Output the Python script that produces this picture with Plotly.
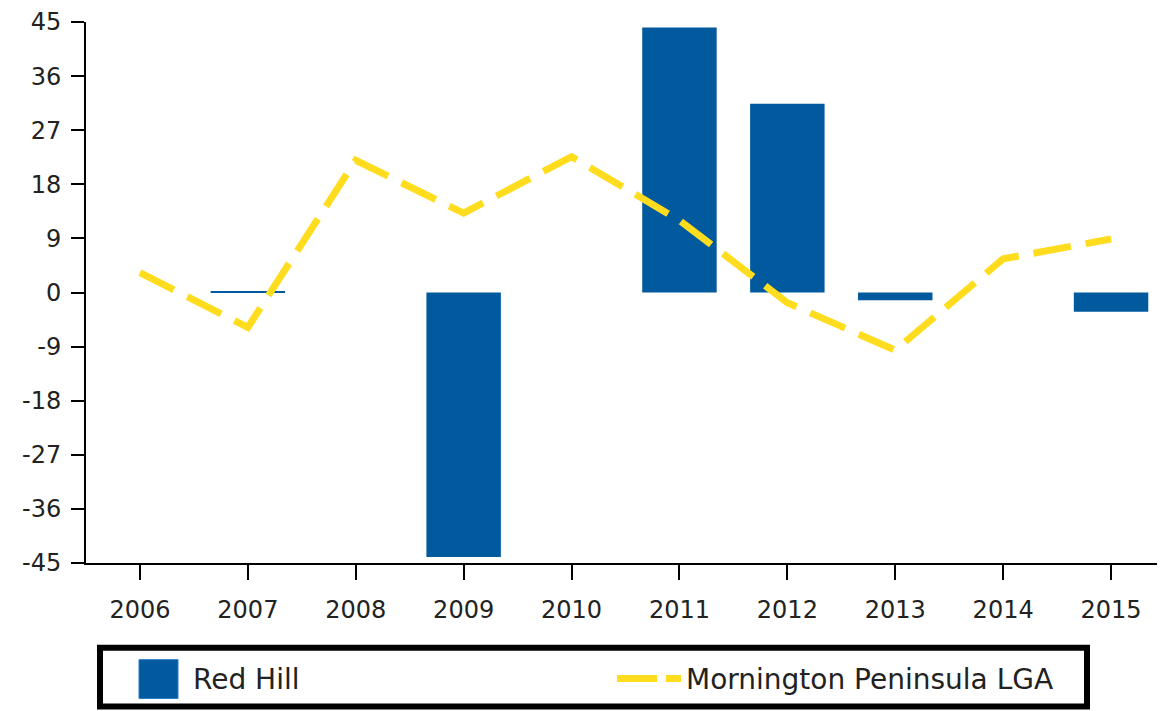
import plotly.graph_objects as go

# data
years = ["2006", "2007", "2008", "2009", "2010", "2011", "2012", "2013", "2014", "2015"]
red_hill = [None, 0.2, None, -44.0, None, 44.1, 31.4, -1.3, None, -3.2]
mornington = [3.3, -5.8, 22.0, 13.2, 22.6, 12.0, -1.7, -9.6, 5.6, 8.9]
y_ticks = [-45, -36, -27, -18, -9, 0, 9, 18, 27, 36, 45]
series_names = ["Red Hill", "Mornington Peninsula LGA"]

BLUE = "#01599E"
YELLOW = "#FFDC1E"
FONT = "DejaVu Sans"

# the page body keeps its 8px margin, so the figure starts at (8, 8)
OFF = 8
W, H = 1165 - OFF, 711 - OFF
ML, MR, MT, MB = 86 - OFF, 0, 20 - OFF, 711 - 563
PW, PH = W - ML - MR, H - MT - MB


def px(x):
    # screen pixel -> paper x
    return (x - OFF - ML) / PW


def py(y):
    # screen pixel -> paper y
    return (563 - y) / PH


fig = go.Figure()
fig.add_trace(go.Bar(x=years, y=red_hill, name=series_names[0],
                     marker=dict(color=BLUE, line=dict(width=0)),
                     showlegend=False))
fig.add_trace(go.Scatter(x=years, y=mornington, name=series_names[1], mode="lines",
                         line=dict(color=YELLOW, width=7, dash="38px,15px"),
                         showlegend=False))

# legend drawn by hand so the swatches keep their size
shapes = [
    dict(type="rect", xref="paper", yref="paper",
         x0=px(100), x1=px(1087), y0=py(648), y1=py(707),
         line=dict(color="black", width=6), fillcolor="white"),
    dict(type="rect", xref="paper", yref="paper",
         x0=px(139), x1=px(178), y0=py(660), y1=py(699),
         line=dict(color="#2a7fd0", width=1), fillcolor=BLUE),
    dict(type="line", xref="paper", yref="paper",
         x0=px(617), x1=px(681), y0=py(679), y1=py(679),
         line=dict(color=YELLOW, width=7, dash="40px,9px")),
]
annotations = [
    dict(text=series_names[0], xref="paper", yref="paper", x=px(191), y=py(680),
         xanchor="left", yanchor="middle", showarrow=False,
         font=dict(family=FONT, size=28, color="#222")),
    dict(text=series_names[1], xref="paper", yref="paper", x=px(684), y=py(680),
         xanchor="left", yanchor="middle", showarrow=False,
         font=dict(family=FONT, size=28, color="#222")),
]

fig.update_layout(
    width=W, height=H,
    margin=dict(l=ML, r=MR, t=MT, b=MB),
    paper_bgcolor="white", plot_bgcolor="white",
    bargap=0.31,
    showlegend=False,
    shapes=shapes,
    annotations=annotations,
    font=dict(family=FONT, size=24, color="#222"),
)
fig.update_xaxes(type="category", showline=True, linecolor="black", linewidth=2,
                 ticks="outside", ticklen=15, tickwidth=2, tickcolor="black",
                 ticklabelstandoff=9, showgrid=False, zeroline=False)
fig.update_yaxes(range=[-45, 45], tickvals=y_ticks, ticktext=[str(v) for v in y_ticks],
                 ticklabeloverflow="allow",
                 showline=True, linecolor="black",
                 linewidth=2, ticks="outside", ticklen=13, tickwidth=2, tickcolor="black",
                 ticklabelstandoff=5, showgrid=False, zeroline=False)

fig.write_html("out.html")
